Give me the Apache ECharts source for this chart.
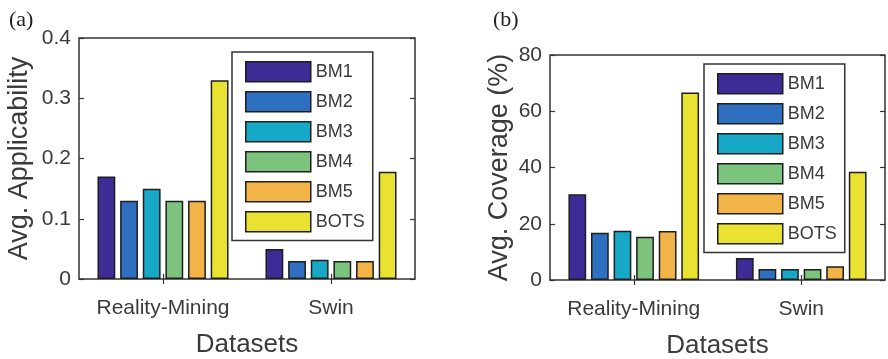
<!DOCTYPE html>
<html>
<head>
<meta charset="utf-8">
<script src="https://cdn.jsdelivr.net/npm/echarts@6/dist/echarts.min.js"></script>
<style>
html,body{margin:0;padding:0;background:#fff;}
#c{width:888px;height:359px;}
</style>
</head>
<body>
<div id="c"></div>
<script>
var categories = ['Reality-Mining', 'Swin'];
var seriesNames = ['BM1', 'BM2', 'BM3', 'BM4', 'BM5', 'BOTS'];
var colors = ['#3f2b96', '#2f6fc0', '#17a8c8', '#7cc47e', '#f2b447', '#e9e230'];

var applyBM1 = [0.17, 0.05];
var applyBM2 = [0.13, 0.03];
var applyBM3 = [0.15, 0.032];
var applyBM4 = [0.13, 0.03];
var applyBM5 = [0.13, 0.03];
var applyBOTS = [0.33, 0.178];

var covBM1 = [30.5, 7.8];
var covBM2 = [16.8, 3.9];
var covBM3 = [17.5, 3.9];
var covBM4 = [15.4, 3.9];
var covBM5 = [17.4, 4.9];
var covBOTS = [66.7, 38.5];

var applyTicks = {min: 0, max: 0.4, interval: 0.1};
var covTicks = {min: 0, max: 80, interval: 20};

var applyData = [applyBM1, applyBM2, applyBM3, applyBM4, applyBM5, applyBOTS];
var covData = [covBM1, covBM2, covBM3, covBM4, covBM5, covBOTS];

var FONT = 'Liberation Sans, Arial, sans-serif';
var TXT = '#3a3a3a';

function catAxis(gi, pos, showLabels, name) {
  return {
    type: 'category', gridIndex: gi, position: pos, data: categories,
    axisLine: {show: false},
    axisTick: {show: true, inside: true, alignWithLabel: true, length: 5, lineStyle: {color: '#333', width: 1.2}},
    axisLabel: {show: showLabels, interval: 0, fontFamily: FONT, fontSize: 21, color: TXT, margin: 19},
    name: name || '', nameLocation: 'middle', nameGap: 53,
    nameTextStyle: {fontFamily: FONT, fontSize: 26, color: TXT},
    splitLine: {show: false}
  };
}
function valAxis(gi, pos, ticks, showLabels, name, gap) {
  return {
    type: 'value', gridIndex: gi, position: pos,
    min: ticks.min, max: ticks.max, interval: ticks.interval,
    axisLine: {show: false},
    axisTick: {show: true, inside: true, length: 5, lineStyle: {color: '#333', width: 1.2}},
    axisLabel: {show: showLabels, fontFamily: FONT, fontSize: 21, color: TXT, margin: 8},
    splitLine: {show: false},
    name: name || '', nameLocation: 'middle', nameGap: gap || 40, nameRotate: 90,
    nameTextStyle: {fontFamily: FONT, fontSize: 27, color: TXT}
  };
}

var series = [];
seriesNames.forEach(function (n, i) {
  series.push({
    name: n, type: 'bar', xAxisIndex: 0, yAxisIndex: 0, data: applyData[i],
    barGap: '27%', barCategoryGap: '22%',
    itemStyle: {color: colors[i], borderColor: '#1e1e1e', borderWidth: 1.5},
    emphasis: {disabled: true}
  });
});
seriesNames.forEach(function (n, i) {
  series.push({
    name: n, type: 'bar', xAxisIndex: 2, yAxisIndex: 2, data: covData[i],
    barGap: '27%', barCategoryGap: '22%',
    itemStyle: {color: colors[i], borderColor: '#1e1e1e', borderWidth: 1.5},
    emphasis: {disabled: true}
  });
});

var legendBase = {
  orient: 'vertical', data: seriesNames, icon: 'rect',
  itemWidth: 65, itemHeight: 20, itemGap: 8.5,
  padding: [9, 8, 8, 13],
  backgroundColor: '#fff', borderColor: '#333', borderWidth: 1.5,
  textStyle: {fontFamily: FONT, fontSize: 18, color: TXT},
  itemStyle: {borderColor: '#1e1e1e', borderWidth: 1.5},
  selectedMode: false
};

var option = {
  animation: false,
  backgroundColor: '#fff',
  title: [
    {text: '(a)', left: 4, top: 4, textStyle: {fontFamily: 'Liberation Serif, Times New Roman, serif', fontSize: 22, fontWeight: 'normal', color: '#222'}},
    {text: '(b)', left: 488, top: 4, textStyle: {fontFamily: 'Liberation Serif, Times New Roman, serif', fontSize: 22, fontWeight: 'normal', color: '#222'}}
  ],
  grid: [
    {left: 79, top: 38, width: 336, height: 241, show: true, borderColor: '#333', borderWidth: 1.5, backgroundColor: 'transparent', containLabel: false, outerBoundsMode: 'none'},
    {left: 550, top: 55, width: 335, height: 225, show: true, borderColor: '#333', borderWidth: 1.5, backgroundColor: 'transparent', containLabel: false, outerBoundsMode: 'none'}
  ],
  xAxis: [
    catAxis(0, 'bottom', true, 'Datasets'),
    catAxis(0, 'top', false),
    catAxis(1, 'bottom', true, 'Datasets'),
    catAxis(1, 'top', false)
  ],
  yAxis: [
    valAxis(0, 'left', applyTicks, true, 'Avg. Applicability', 46),
    valAxis(0, 'right', applyTicks, false),
    valAxis(1, 'left', covTicks, true, 'Avg. Coverage (%)', 37),
    valAxis(1, 'right', covTicks, false)
  ],
  legend: [
    Object.assign({}, legendBase, {left: 232, top: 52}),
    Object.assign({}, legendBase, {left: 704, top: 64})
  ],
  series: series
};

var chart = echarts.init(document.getElementById('c'), null, {renderer: 'canvas'});
chart.setOption(option);
</script>
</body>
</html>
